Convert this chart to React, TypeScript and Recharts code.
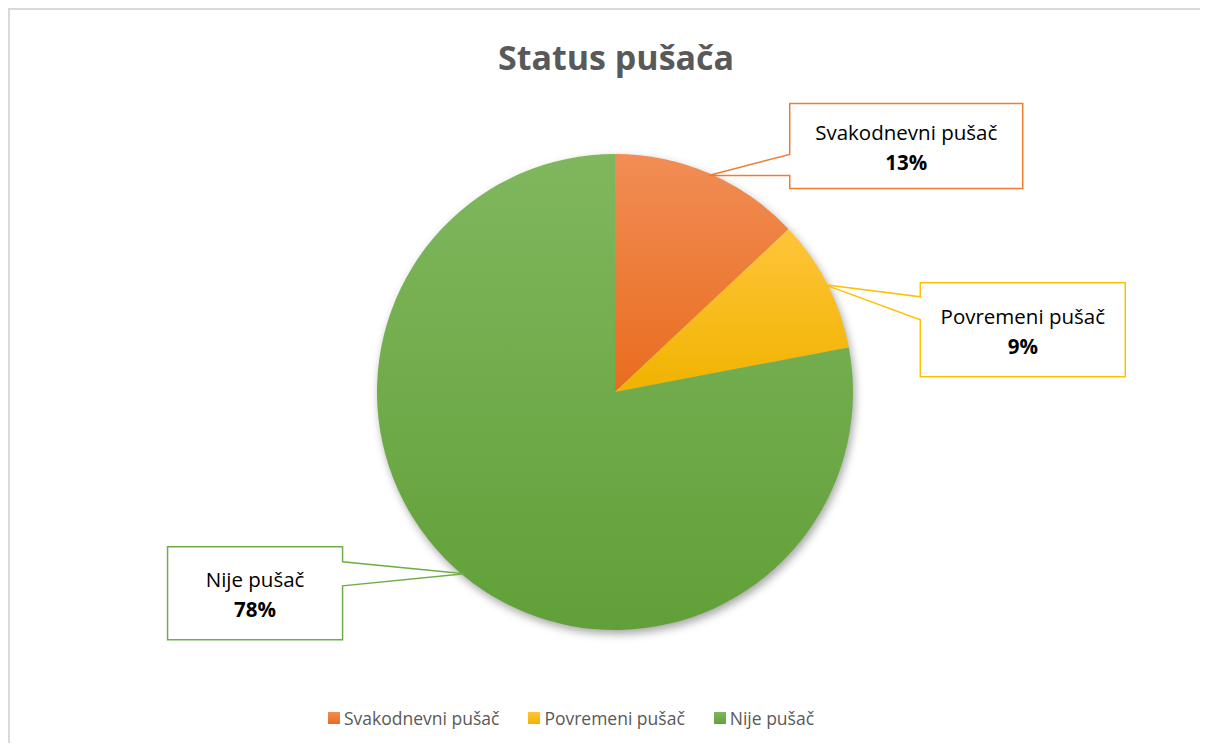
import React from 'react';
import { PieChart, Pie, Cell } from 'recharts';

const categories = ['Svakodnevni pušač', 'Povremeni pušač', 'Nije pušač'];
const shares = [13, 9, 78];
const percentLabels = ['13%', '9%', '78%'];

const colors = ['#ed7d31', '#ffc000', '#70ad47'];
const gradients = [
    ['#f18d55', '#e96c1e'],
    ['#ffc53a', '#f0b300'],
    ['#80b75e', '#61a038'],
];

// callout box placement relative to the slice tip
const callouts = [
    { dx: 81, dy: -72, w: 233, h: 85, a: 51, b: 72, side: 'left' },
    { dx: 95, dy: -2, w: 205, h: 94, a: 14, b: 37, side: 'left' },
    { dx: -297, dy: -27, w: 175, h: 93, a: 15, b: 39, side: 'right' },
];

const data = categories.map((name, i) => ({ name, value: shares[i] }));

const FONT = '"Open Sans", Lato, sans-serif';
const RAD = Math.PI / 180;

const renderCallout = (props: any) => {
    const { cx, cy, midAngle, outerRadius, index } = props;
    const c = callouts[index];
    const tx = cx + (outerRadius - 2) * Math.cos(-midAngle * RAD);
    const ty = cy + (outerRadius - 2) * Math.sin(-midAngle * RAD);
    const left = tx + c.dx;
    const top = ty + c.dy;
    const right = left + c.w;
    const bottom = top + c.h;
    let d: string;
    if (c.side === 'left') {
        d = `M${tx},${ty} L${left},${top + c.a} L${left},${top} L${right},${top} L${right},${bottom} L${left},${bottom} L${left},${top + c.b} Z`;
    } else {
        d = `M${tx},${ty} L${right},${top + c.b} L${right},${bottom} L${left},${bottom} L${left},${top} L${right},${top} L${right},${top + c.a} Z`;
    }
    const mx = (left + right) / 2;
    const my = (top + bottom) / 2;
    return (
        <g key={`callout-${index}`}>
            <path d={d} fill="#fff" stroke={colors[index]} strokeWidth={1.5} />
            <text x={mx} y={my - 14} textAnchor="middle" dominantBaseline="central" fontFamily={FONT} fontSize={20.5} fill="#000">
                {categories[index]}
            </text>
            <text x={mx} y={my + 16} textAnchor="middle" dominantBaseline="central" fontFamily={FONT} fontSize={20.5} fontWeight={700} fill="#000">
                {percentLabels[index]}
            </text>
        </g>
    );
};

export default function App() {
    return (
        <div style={{ position: 'relative', width: 1190, height: 733, overflow: 'hidden', borderTop: '2px solid #d9d9d9', borderLeft: '2px solid #d9d9d9', fontFamily: FONT }}>
            <style>{'html, body { overflow: hidden; }'}</style>
            <div style={{ position: 'absolute', left: 0, width: 1212, top: 24, textAlign: 'center', fontSize: 34, fontWeight: 700, color: '#595959' }}>
                Status pušača
            </div>
            <div style={{ position: 'absolute', left: 0, top: 0 }}>
                <PieChart width={1190} height={733}>
                    <defs>
                        {gradients.map((g, i) => (
                            <linearGradient key={i} id={`grad${i}`} x1="0" y1="0" x2="0" y2="1">
                                <stop offset="0%" stopColor={g[0]} />
                                <stop offset="100%" stopColor={g[1]} />
                            </linearGradient>
                        ))}
                        <filter id="pieShadow" x="-20%" y="-20%" width="140%" height="140%">
                            <feGaussianBlur stdDeviation="4" />
                        </filter>
                    </defs>
                    <Pie
                        data={data}
                        dataKey="value"
                        nameKey="name"
                        cx={602}
                        cy={381}
                        outerRadius={238}
                        startAngle={90}
                        endAngle={-270}
                        stroke="none"
                        fill="#000"
                        fillOpacity={0.35}
                        style={{ filter: 'url(#pieShadow)' }}
                        legendType="none"
                        isAnimationActive={false}
                    />
                    <Pie
                        data={data}
                        dataKey="value"
                        nameKey="name"
                        cx={600}
                        cy={377}
                        outerRadius={238}
                        startAngle={90}
                        endAngle={-270}
                        stroke="none"
                        label={renderCallout}
                        labelLine={false}
                        isAnimationActive={false}
                    >
                        {data.map((_, i) => (
                            <Cell key={i} fill={`url(#grad${i})`} />
                        ))}
                    </Pie>
                </PieChart>
            </div>
            <div style={{ position: 'absolute', left: 318, top: 696, display: 'flex', gap: 29, fontSize: 17.5, color: '#595959' }}>
                {categories.map((name, i) => (
                    <div key={name} style={{ display: 'flex', alignItems: 'center' }}>
                        <span style={{ display: 'inline-block', width: 12, height: 12, marginRight: 4, background: `linear-gradient(${gradients[i][0]}, ${gradients[i][1]})` }} />
                        <span>{name}</span>
                    </div>
                ))}
            </div>
        </div>
    );
}
